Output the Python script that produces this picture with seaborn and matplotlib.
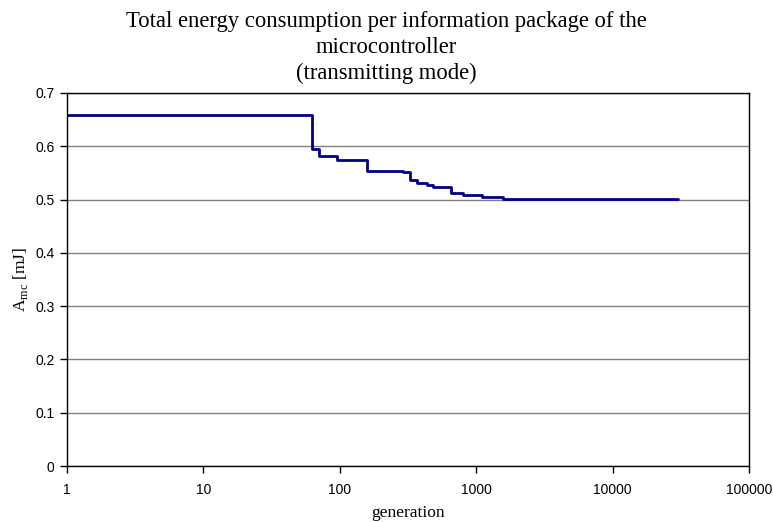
import numpy as np
import matplotlib
matplotlib.use("Agg")
import matplotlib.pyplot as plt
import seaborn as sns
import pandas as pd
from matplotlib.ticker import FixedLocator, NullLocator, FixedFormatter

# best energy value found so far (step changes)
generations = [1, 63, 70, 96, 157, 254, 292, 327, 366, 434, 485, 650, 805, 1097, 1563, 30000]
energy = [0.658, 0.594, 0.582, 0.575, 0.554, 0.553, 0.551, 0.536, 0.531, 0.528, 0.524, 0.512, 0.508, 0.505, 0.502, 0.502]

x_ticks = [1, 10, 100, 1000, 10000, 100000]
x_labels = ["1", "10", "100", "1000", "10000", "100000"]
y_ticks = [0, 0.1, 0.2, 0.3, 0.4, 0.5, 0.6, 0.7]
y_labels = ["0", "0.1", "0.2", "0.3", "0.4", "0.5", "0.6", "0.7"]

df = pd.DataFrame({"generation": generations, "energy": energy})

sns.set_style("white")
plt.rcParams["font.family"] = ["Liberation Sans", "DejaVu Sans"]
plt.rcParams["mathtext.fontset"] = "custom"
plt.rcParams["mathtext.rm"] = "Liberation Serif"
for k in ["text.color", "axes.labelcolor", "xtick.color", "ytick.color"]:
    plt.rcParams[k] = "black"

fig = plt.figure(figsize=(7.73, 5.22), dpi=100)
ax = fig.add_axes([67 / 773, 1 - 466 / 522, (749 - 67) / 773, (466 - 93) / 522])

sns.lineplot(data=df, x="generation", y="energy", drawstyle="steps-post",
             color="#000080", linewidth=2, ax=ax)

ax.set_xscale("log")
ax.set_xlim(1, 100000)
ax.set_ylim(0, 0.7)
ax.xaxis.set_major_locator(FixedLocator(x_ticks))
ax.xaxis.set_major_formatter(FixedFormatter(x_labels))
ax.xaxis.set_minor_locator(NullLocator())
ax.yaxis.set_major_locator(FixedLocator(y_ticks))
ax.yaxis.set_major_formatter(FixedFormatter(y_labels))

ax.yaxis.grid(True, color="#808080", linewidth=1)
ax.xaxis.grid(False)
for s in ax.spines.values():
    s.set_color("black")
    s.set_linewidth(1)
ax.tick_params(axis="both", direction="out", length=5, width=1, color="black",
               labelsize=10, bottom=True, left=True, pad=4)
ax.tick_params(axis="x", pad=7)

ax.set_xlabel("generation", family="Liberation Serif", fontsize=12.5, labelpad=6)
ax.set_ylabel(r"A$_{\mathrm{mc}}$ [mJ]", family="Liberation Serif", fontsize=12.5, labelpad=4)
# title is centred on the whole figure, not the plot area
ax.set_title("Total energy consumption per information package of the\nmicrocontroller\n(transmitting mode)",
             family="Liberation Serif", fontsize=16.3, pad=10, linespacing=1.3,
             x=(386.5 - 67) / (749 - 67))

fig.savefig("out.png", dpi=100)
